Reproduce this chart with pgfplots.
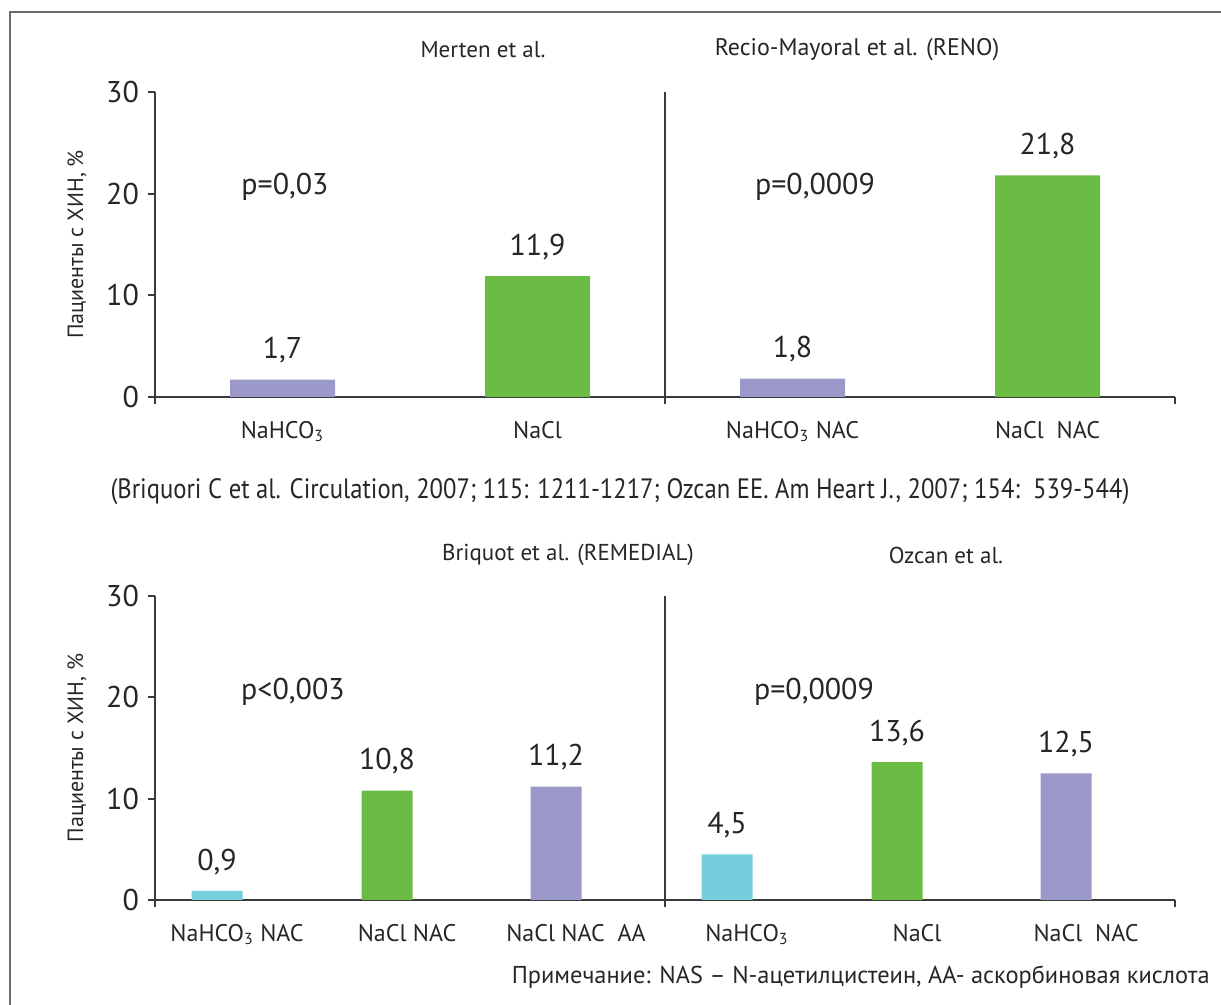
\documentclass[border=0pt]{standalone}
\usepackage{fontspec}
\setmainfont{PT Sans}
\usepackage{pgfplots}
\pgfplotsset{compat=1.18}
\definecolor{axisgray}{HTML}{3A3A3A}
\definecolor{framegray}{HTML}{6A6A6A}
\definecolor{cpurple}{HTML}{9A99CA}
\definecolor{cgreen}{HTML}{6BBC45}
\definecolor{ccyan}{HTML}{76CEDC}
\pgfplotsset{
  panel/.style={
    scale only axis, width=510pt,
    xmin=0, xmax=1020, ymin=0, ymax=30,
    axis x line*=bottom, axis y line*=left,
    axis line style={color=axisgray, line width=0.9pt},
    ytick={0,10,20,30},
    tick align=outside, major tick length=3.5pt,
    ytick style={color=axisgray, line width=0.9pt},
    xtick style={draw=none},
    extra x ticks={0,510,1020}, extra x tick labels={},
    extra x tick style={xtick style={draw=axisgray, line width=0.9pt}, major tick length=3.5pt},
    yticklabel style={font=\fontsize{15}{17}\selectfont, color=black!85, xshift=-1pt},
    xticklabel style={font=\fontsize{12}{14}\selectfont, color=black!85, yshift=-5pt},
    ylabel={Пациенты с ХИН, \%},
    ylabel style={font=\fontsize{11}{13}\selectfont, color=black!85},
    ylabel shift=3pt,
    ybar,
    nodes near coords={\pgfmathprintnumber[fixed,fixed zerofill,precision=1,use comma,assume math mode=true]{\pgfplotspointmeta}},
    nodes near coords style={font=\fontsize{15}{17}\selectfont, color=black!85, anchor=south, inner sep=0pt, yshift=8pt},
    /pgf/number format/assume math mode=true,
  },
}
\begin{document}
\begin{tikzpicture}
\useasboundingbox (0,0) rectangle (610.5pt,502.5pt);
% frame
\draw[framegray, line width=1pt] (5pt,0pt) -- (5pt,496.5pt) -- (610.5pt,496.5pt);
% titles
\node[font=\fontsize{11.5}{13}\selectfont, color=black!85] at (241.5pt,477.5pt) {Merten et al.};
\node[font=\fontsize{12}{13}\selectfont, color=black!85] at (428.5pt,477.5pt) {Recio-Mayoral et al. (RENO)};
\node[font=\fontsize{14}{16}\selectfont, color=black!85] at (310pt,256.5pt) {\scalebox{0.88}[1]{(Briquori C et al. Circulation, 2007; 115: 1211-1217; Ozcan EE. Am Heart J., 2007; 154:\ \ 539-544)}};
\node[font=\fontsize{11.5}{13}\selectfont, color=black!85] at (284pt,225pt) {Briquot et al. (REMEDIAL)};
\node[font=\fontsize{11.5}{13}\selectfont, color=black!85] at (473pt,225pt) {Ozcan et al.};
\node[font=\fontsize{12.2}{14}\selectfont, color=black!85, anchor=east, inner sep=0pt] at (605pt,14pt) {Примечание: NAS – N-ацетилцистеин, АА- аскорбиновая кислота};

% top panel
\begin{axis}[panel, height=152.5pt, at={(77.5pt,304pt)}, anchor=south west,
  xtick={127.5,382.5,637.5,892.5},
  xticklabels={NaHCO\textsubscript{3}, NaCl, NaHCO\textsubscript{3} NAC, NaCl\ \ NAC}]
\addplot[fill=cpurple, draw=none, bar width=105, bar shift=0pt] coordinates {(127.5,1.7) (637.5,1.8)};
\addplot[fill=cgreen, draw=none, bar width=105, bar shift=0pt] coordinates {(382.5,11.9) (892.5,21.8)};
\draw[axisgray, line width=0.9pt] (axis cs:510,0) -- (axis cs:510,30);
\node[font=\fontsize{15}{17}\selectfont, color=black!85] at (axis cs:130,20.66) {p=0,03};
\node[font=\fontsize{15}{17}\selectfont, color=black!85] at (axis cs:660,20.66) {p=0,0009};
\end{axis}

% bottom panel
\begin{axis}[panel, height=152pt, at={(77.5pt,52.5pt)}, anchor=south west,
  xtick={62,232,401,572,742,911},
  xticklabels={NaHCO\textsubscript{3} NAC, NaCl NAC, NaCl NAC\ \ AA, NaHCO\textsubscript{3}, NaCl, NaCl\ \ NAC},
  xticklabel style={xshift=10pt}]
\addplot[fill=ccyan, draw=none, bar width=51, bar shift=0pt] coordinates {(62,0.9) (572,4.5)};
\addplot[fill=cgreen, draw=none, bar width=51, bar shift=0pt] coordinates {(232,10.8) (742,13.6)};
\addplot[fill=cpurple, draw=none, bar width=51, bar shift=0pt] coordinates {(401,11.2) (911,12.5)};
\draw[axisgray, line width=0.9pt] (axis cs:510,0) -- (axis cs:510,30);
\node[font=\fontsize{15}{17}\selectfont, color=black!85] at (axis cs:138,20.5) {p<0,003};
\node[font=\fontsize{15}{17}\selectfont, color=black!85] at (axis cs:659,20.5) {p=0,0009};
\end{axis}
\end{tikzpicture}
\end{document}
